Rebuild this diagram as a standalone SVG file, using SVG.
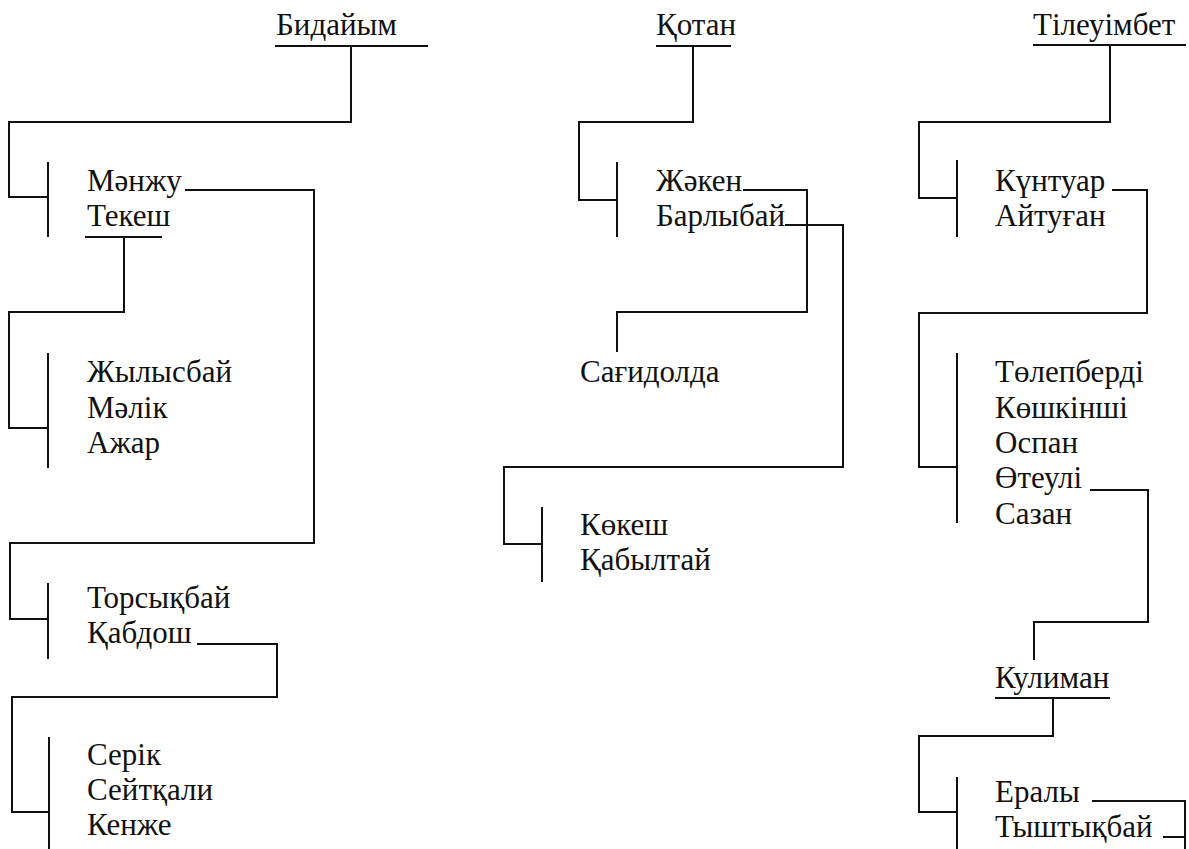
<svg xmlns="http://www.w3.org/2000/svg" width="1189" height="849" viewBox="0 0 1189 849">
<style>
.c path{fill:none;stroke:#111;stroke-width:2}
.t text{font-family:'Liberation Serif','Times New Roman',serif;font-size:31px;fill:#111}
</style>
<rect width="1189" height="849" fill="#fff"/>
<g class="c" id="connectors">
<path d="M275 46H428M351 46V122H9V197H48M48 162V237"/>
<path d="M185 190H314V543H10V619H48M48 583V659"/>
<path d="M85 237H162M124 237V312H9V428H48M48 353V468"/>
<path d="M197 644H277V697H12V812H49M49 737V849"/>
<path d="M656 46H731M693 46V122H579V200H617M617 162V237"/>
<path d="M743 190H807V312H617V352"/>
<path d="M785 225H843V467H504V544H542M542 507V582"/>
<path d="M1033 45H1186M1110 45V122H919V198H957M957 160V237"/>
<path d="M1112 190H1147V313H919V467H957M957 353V523"/>
<path d="M1090 490H1148V622H1034V660"/>
<path d="M995 698H1110M1053 698V736H919V812H957M957 777V849"/>
<path d="M1092 801H1185V849M1163 837H1185"/>
</g>
<g class="t">
<g id="n-bidaiym"><text x="276" y="35">Бидайым</text></g>
<g id="n-kotan"><text x="656" y="35">Қотан</text></g>
<g id="n-tileuimbet"><text x="1033" y="35">Тілеуімбет</text></g>
<g id="n-g1"><text x="87" y="191">Мәнжу</text><text x="87" y="226">Текеш</text></g>
<g id="n-g2"><text x="87" y="382">Жылысбай</text><text x="87" y="418">Мәлік</text><text x="87" y="453">Ажар</text></g>
<g id="n-g3"><text x="87" y="608">Торсықбай</text><text x="87" y="643">Қабдош</text></g>
<g id="n-g4"><text x="87" y="765">Серік</text><text x="87" y="800">Сейтқали</text><text x="87" y="835">Кенже</text></g>
<g id="n-g5"><text x="656" y="191">Жәкен</text><text x="656" y="226">Барлыбай</text></g>
<g id="n-sagidolda"><text x="580" y="382">Сағидолда</text></g>
<g id="n-g6"><text x="580" y="535">Көкеш</text><text x="580" y="570">Қабылтай</text></g>
<g id="n-g7"><text x="995" y="191">Күнтуар</text><text x="995" y="226">Айтуған</text></g>
<g id="n-g8"><text x="995" y="382">Төлепберді</text><text x="995" y="418">Көшкінші</text><text x="995" y="453">Оспан</text><text x="995" y="488">Өтеулі</text><text x="995" y="524">Сазан</text></g>
<g id="n-kuliman"><text x="995" y="688">Кулиман</text></g>
<g id="n-g9"><text x="995" y="802">Ералы</text><text x="995" y="837">Тыштықбай</text></g>
</g>
</svg>
